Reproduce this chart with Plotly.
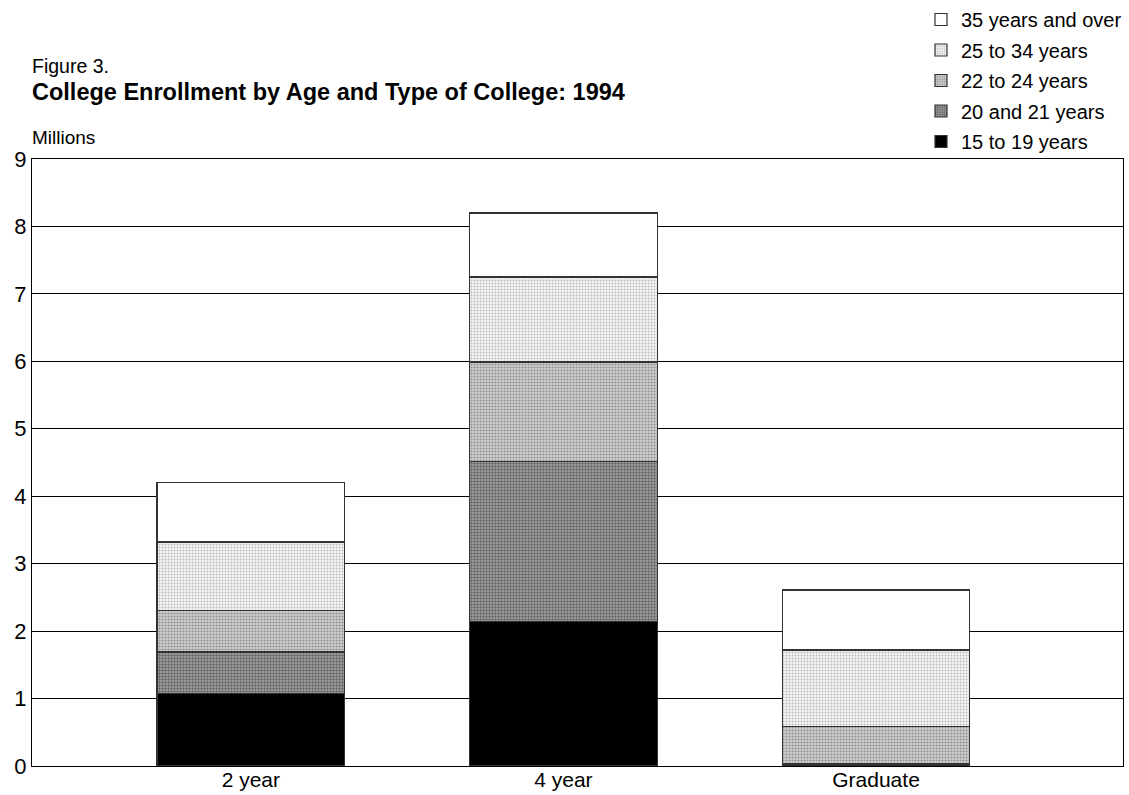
import plotly.graph_objects as go

categories = ["2 year", "4 year", "Graduate"]
age_groups = ["15 to 19 years", "20 and 21 years", "22 to 24 years", "25 to 34 years", "35 years and over"]
v_15_19 = [1.07, 2.14, 0.01]
v_20_21 = [0.62, 2.38, 0.02]
v_22_24 = [0.61, 1.47, 0.56]
v_25_34 = [1.02, 1.26, 1.13]
v_35_over = [0.88, 0.95, 0.89]
series = [v_15_19, v_20_21, v_22_24, v_25_34, v_35_over]
y_ticks = list(range(0, 10))

styles = [
    dict(color="black", pattern=None),
    dict(color="white", pattern=dict(shape=".", fgcolor="#202020", bgcolor="#a8a8a8", size=3, solidity=0.5)),
    dict(color="white", pattern=dict(shape=".", fgcolor="#505050", bgcolor="#d0d0d0", size=3, solidity=0.4)),
    dict(color="white", pattern=dict(shape=".", fgcolor="#808080", bgcolor="#f4f4f4", size=3, solidity=0.3)),
    dict(color="white", pattern=None),
]

fig = go.Figure()
n = len(age_groups)
for i, (name, vals, st) in enumerate(zip(age_groups, series, styles)):
    marker = dict(color=st["color"], line=dict(color="#333333", width=1.2))
    if st["pattern"]:
        marker["pattern"] = st["pattern"]
    fig.add_trace(go.Bar(x=categories, y=vals, name=name, marker=marker, width=0.6,
                         legendgroup=f"g{i}", legendrank=(n - i) * 10))

W, H = 1129, 795
P_L, P_TOP, P_H, P_R = 32, 159, 607, 6
def py(px):
    return 1 + (P_TOP - px) / P_H

fig.update_layout(
    width=W, height=H,
    barmode="stack",
    paper_bgcolor="white", plot_bgcolor="white",
    font=dict(family="Liberation Sans, Arial, sans-serif", color="black", size=22),
    margin=dict(l=P_L, r=P_R, t=P_TOP, b=H - P_TOP - P_H, autoexpand=False),
    legend=dict(traceorder="grouped", x=921 / W, xref="container", xanchor="left",
                y=1.0, yref="container", yanchor="top",
                font=dict(size=20), tracegroupgap=1.5,
                bgcolor="rgba(0,0,0,0)"),
    annotations=[
        dict(text="Figure 3.", x=0, y=py(66), xref="paper", yref="paper", xanchor="left", yanchor="middle",
             showarrow=False, font=dict(size=19.5), xshift=-2),
        dict(text="<b>College Enrollment by Age and Type of College: 1994</b>", x=0, y=py(92),
             xref="paper", yref="paper", xanchor="left", yanchor="middle", showarrow=False,
             font=dict(size=23.5), xshift=-2),
        dict(text="Millions", x=0, y=py(138), xref="paper", yref="paper", xanchor="left", yanchor="middle",
             showarrow=False, font=dict(size=19), xshift=-2),
    ],
)
fig.update_xaxes(range=[-0.7, 2.79], showline=True, linecolor="black", linewidth=1, mirror=True,
                 ticks="", tickfont=dict(size=21), automargin=False, ticklabelstandoff=-5)
fig.update_yaxes(range=[0, 9], tickvals=y_ticks, showgrid=True, gridcolor="black", gridwidth=1,
                 showline=True, linecolor="black", linewidth=1, mirror=True, ticks="",
                 tickfont=dict(size=22), zeroline=False, automargin=False)

fig.write_html("out.html", config={"displayModeBar": False},
               post_script="document.body.style.margin='0';")
